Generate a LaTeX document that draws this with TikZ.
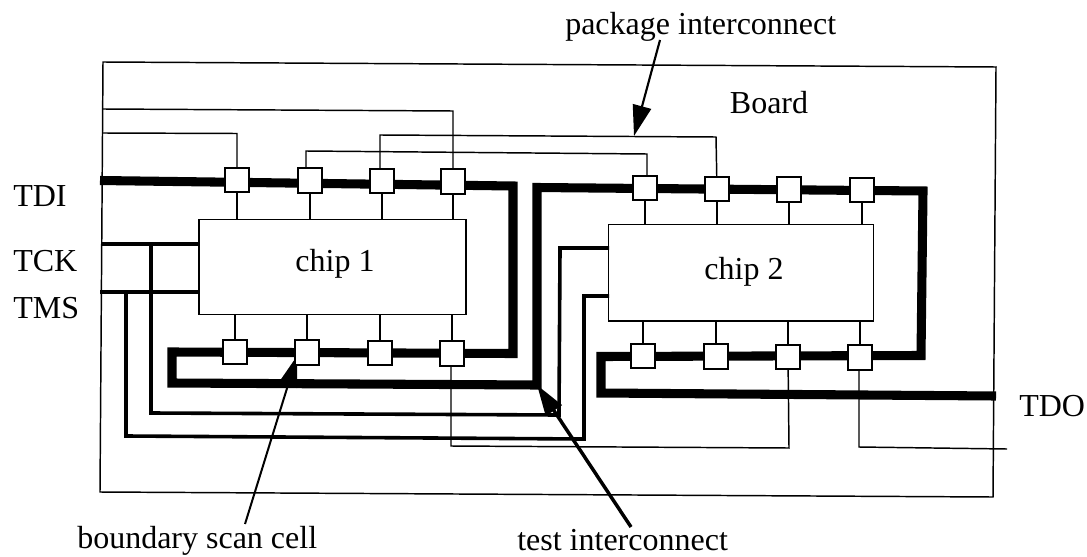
\documentclass[tikz,border=0pt]{standalone}
\usepackage{fontspec}
\setmainfont{Liberation Serif}
\usetikzlibrary{arrows.meta}
\tikzset{
  thinw/.style={draw=black,line width=1.1pt},
  medw/.style={draw=black,line width=2.7pt,line join=miter},
  chain/.style={draw=black,line width=6.8pt,line join=miter},
  cellbox/.style={draw=black,fill=white,line width=1.2pt,minimum size=18.4pt,inner sep=0pt},
  chipbox/.style={draw=black,fill=white,line width=1.1pt,inner sep=0pt},
  lab/.style={inner sep=0pt,anchor=base,font=\fontsize{24pt}{26pt}\selectfont},
  labw/.style={lab,anchor=base west},
  callout/.style={draw=black,-{Triangle[length=23pt,width=14pt]}},
}
\begin{document}
\begin{tikzpicture}[x=0.75pt,y=-0.75pt]
\useasboundingbox (0,0) rectangle (1087,556);
% board
\coordinate (bTL) at (103,62);
\coordinate (bTR) at (996,67);
\coordinate (bBR) at (993,497);
\coordinate (bBL) at (100,492);
\draw[thinw] (bTL) -- (bTR) -- (bBR) -- (bBL) -- cycle;
% cell and chip positions
\coordinate (A1) at (237,180); \coordinate (A2) at (310,180.5);
\coordinate (A3) at (382,181); \coordinate (A4) at (453,181.5);
\coordinate (B1) at (235,352); \coordinate (B2) at (307,352.5);
\coordinate (B3) at (380,353); \coordinate (B4) at (452,353.5);
\coordinate (C1) at (645,188); \coordinate (C2) at (717,189);
\coordinate (C3) at (789,189.5); \coordinate (C4) at (862,190);
\coordinate (D1) at (643,356); \coordinate (D2) at (716,356.5);
\coordinate (D3) at (788,357); \coordinate (D4) at (860,357.5);
% chain
\coordinate (tdiS) at (100,180.5);
\coordinate (tdoE) at (996,396);
\draw[chain] (tdiS) -- (513,186) -- (513,353.5) -- (172,352) -- (172,383) -- (537,385) -- (537,187.5)
  -- (923,191) -- (921,355.5) -- (601,356.5) -- (601,393) -- (tdoE);
% chips
\node[chipbox,minimum width=200pt,minimum height=71.2pt] (chipA) at (332.5,267) {};
\node[chipbox,minimum width=198.8pt,minimum height=72.4pt] (chipB) at (741,272.5) {};
\node[lab] (chipAl) at (335,271) {chip 1};
\node[lab] (chipBl) at (744,279) {chip 2};
% stubs
\foreach \n in {A1,A2,A3,A4} \draw[thinw] (\n) -- (\n |- chipA.north);
\foreach \n in {B1,B2,B3,B4} \draw[thinw] (\n) -- (\n |- chipA.south);
\foreach \n in {C1,C2,C3,C4} \draw[thinw] (\n) -- (\n |- chipB.north);
\foreach \n in {D1,D2,D3,D4} \draw[thinw] (\n) -- (\n |- chipB.south);
% top wires
\coordinate (w1) at (103,109); \coordinate (w1b) at (453,111);
\draw[thinw] (w1) -- (w1b) -- (A4);
\coordinate (w2) at (103,133); \coordinate (w2b) at (237,133.5);
\draw[thinw] (w2) -- (w2b) -- (A1);
\coordinate (w3a) at (306,151); \coordinate (w3b) at (647,154);
\draw[thinw] (306,180) -- (w3a) -- (w3b) -- (647,188);
\coordinate (w4a) at (380,135); \coordinate (w4b) at (716,137);
\draw[thinw] (380,181) -- (w4a) -- (w4b) -- (C2);
% bottom wires
\coordinate (w5a) at (451,446); \coordinate (w5b) at (789,448);
\draw[thinw] (451,353) -- (w5a) -- (w5b) -- (D3);
\coordinate (w6a) at (859,447); \coordinate (w6b) at (1007,449);
\draw[thinw] (859,357) -- (w6a) -- (w6b);
% TCK / TMS
\coordinate (tck) at (101,244); \coordinate (tms) at (100,292);
\draw[medw] (tck) -- (tck -| chipA.west);
\draw[medw] (tms) -- (tms -| chipA.west);
\draw[medw] (151,244) -- (151,413) -- (559,415) -- (560,248) -- (609,248);
\draw[medw] (126,292) -- (126,436) -- (584,439) -- (584,296) -- (609,296);
% callouts
\coordinate (pkgT) at (660,40); \coordinate (pkgH) at (634,136);
\draw[callout,line width=1.6pt] (pkgT) -- (pkgH);
\coordinate (bscT) at (245,524); \coordinate (bscH) at (297,356);
\draw[callout,line width=1.5pt] (bscT) -- (bscH);
\coordinate (tiT) at (631,527); \coordinate (tiH) at (537,385);
\draw[callout,line width=2.6pt] (tiT) -- (tiH);
% cells
\foreach \n in {A1,A2,A3,A4,B1,B2,B3,B4,C1,C2,C3,C4,D1,D2,D3,D4}
  \node[cellbox] (cell\n) at (\n) {};
% labels
\node[labw] (lpkg) at (565,35) {package interconnect};
\node[lab] (lboard) at (769,114) {Board};
\node[labw] (ltdi) at (13,206) {TDI};
\node[labw] (ltck) at (13,271) {TCK};
\node[labw] (ltms) at (13,318) {TMS};
\node[labw] (ltdo) at (1019,416) {TDO};
\node[labw] (lbsc) at (77,548) {boundary scan cell};
\node[labw] (lti) at (517,550) {test interconnect};
\end{tikzpicture}
\end{document}
